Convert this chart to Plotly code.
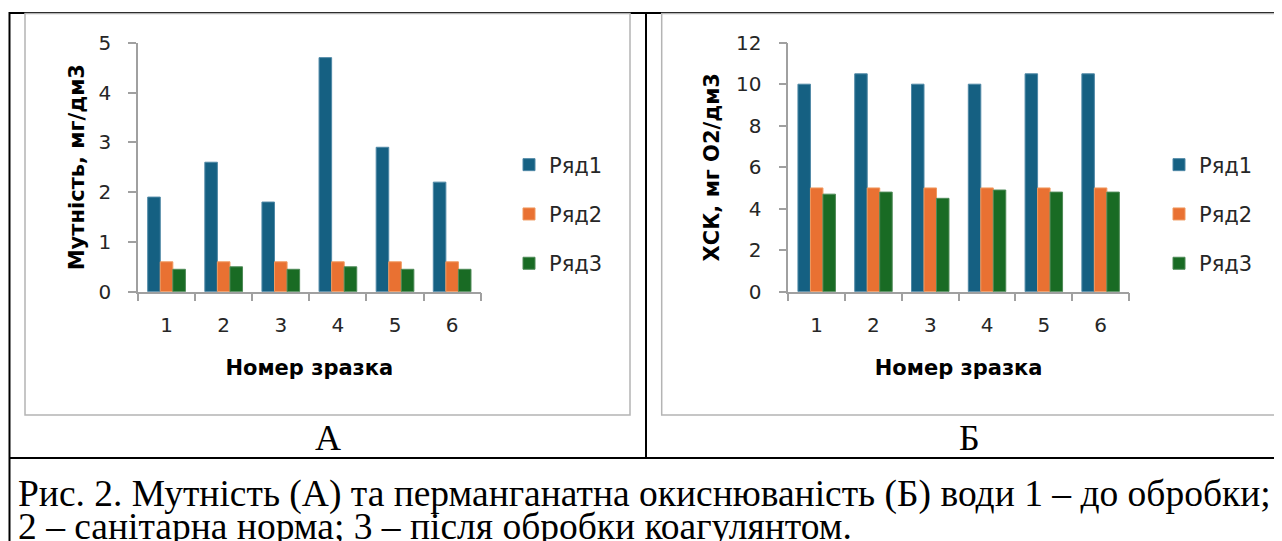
import plotly.graph_objects as go

# ---------------- data ----------------
categories = ["1", "2", "3", "4", "5", "6"]
series_names = ["Ряд1", "Ряд2", "Ряд3"]

turbidity_r1 = [1.9, 2.6, 1.8, 4.7, 2.9, 2.2]
turbidity_r2 = [0.6, 0.6, 0.6, 0.6, 0.6, 0.6]
turbidity_r3 = [0.45, 0.5, 0.45, 0.5, 0.45, 0.45]

cod_r1 = [10, 10.5, 10, 10, 10.5, 10.5]
cod_r2 = [5, 5, 5, 5, 5, 5]
cod_r3 = [4.7, 4.8, 4.5, 4.9, 4.8, 4.8]

y_title_a = "Мутність, мг/дм3"
y_title_b = "ХСК, мг О2/дм3"
x_title = "Номер зразка"
panel_a = "А"
panel_b = "Б"
caption_1 = "Рис. 2. Мутність (А) та перманганатна окиснюваність (Б) води 1 – до обробки;"
caption_2 = "2 – санітарна норма; 3 – після обробки коагулянтом."

colors = ["#156082", "#E97132", "#196B24"]
edge = ["#4f88a6", "#f0995f", "#4e8a57"]

# page body has an 8 px margin; the figure is sized so that it ends at the window edge
OFF = 8
W, H = 1282 - OFF, 541 - OFF


def px(x):
    return (x - OFF) / W


def py(y):
    return 1 - (y - OFF) / H


fig = go.Figure()

for i, (name, vals) in enumerate(zip(series_names, [turbidity_r1, turbidity_r2, turbidity_r3])):
    fig.add_trace(go.Bar(x=categories, y=vals, name=name, xaxis="x", yaxis="y",
                         marker=dict(color=colors[i], line=dict(color=edge[i], width=1)),
                         legend="legend", legendgroup="a" + str(i)))
for i, (name, vals) in enumerate(zip(series_names, [cod_r1, cod_r2, cod_r3])):
    fig.add_trace(go.Bar(x=categories, y=vals, name=name, xaxis="x2", yaxis="y2",
                         marker=dict(color=colors[i], line=dict(color=edge[i], width=1)),
                         legend="legend2", legendgroup="b" + str(i)))

tick_font = dict(family="DejaVu Sans", size=20, color="#262626")
title_font = dict(family="DejaVu Sans", size=21, color="#000000", weight="bold")
axis_line = "#a0a0a0"

common_x = dict(type="category", showline=True, linecolor=axis_line, linewidth=1.5,
                ticks="outside", ticklen=8, tickcolor=axis_line, tickwidth=1.5,
                tickson="boundaries", showgrid=False, zeroline=False, automargin=False,
                tickfont=tick_font, ticklabelstandoff=15,
                title=dict(text=x_title, font=title_font, standoff=24),
                fixedrange=True)
common_y = dict(showline=True, linecolor=axis_line, linewidth=1.5,
                ticks="outside", ticklen=8, tickcolor=axis_line, tickwidth=1.5,
                showgrid=False, zeroline=False, tickfont=tick_font, automargin=False,
                ticklabelstandoff=13, fixedrange=True)

y_top, y_bot = 42.7, 291.7

fig.update_layout(
    width=W, height=H,
    margin=dict(l=0, r=0, t=0, b=0, pad=0, autoexpand=False),
    paper_bgcolor="white", plot_bgcolor="white",
    barmode="group", bargap=0.34, bargroupgap=0,
    xaxis=dict(common_x, domain=[px(138), px(480.7)], anchor="y"),
    yaxis=dict(common_y, domain=[py(y_bot), py(y_top)], anchor="x", range=[0, 5], dtick=1,
               title=dict(text=y_title_a, font=title_font, standoff=8)),
    xaxis2=dict(common_x, domain=[px(788.3), px(1129)], anchor="y2"),
    yaxis2=dict(common_y, domain=[py(y_bot), py(y_top)], anchor="x2", range=[0, 12], dtick=2,
                title=dict(text=y_title_b, font=title_font, standoff=11)),
    legend=dict(x=px(509), xanchor="left", y=py(144.5), yanchor="top",
                font=dict(family="DejaVu Sans", size=21, color="#262626"),
                traceorder="grouped", tracegroupgap=19, bgcolor="rgba(0,0,0,0)"),
    legend2=dict(x=px(1159), xanchor="left", y=py(144.5), yanchor="top",
                 font=dict(family="DejaVu Sans", size=21, color="#262626"),
                 traceorder="grouped", tracegroupgap=19, bgcolor="rgba(0,0,0,0)"),
    font=dict(family="DejaVu Sans"),
)

# table frame and chart-area borders
shapes = []
black = dict(color="black", width=2)
gray = dict(color="#b4b4b4", width=1.5)
shapes.append(dict(type="line", xref="paper", yref="paper", x0=px(9), x1=px(1282), y0=py(13), y1=py(13), line=black))
shapes.append(dict(type="line", xref="paper", yref="paper", x0=px(9.5), x1=px(9.5), y0=py(12), y1=py(541), line=black))
shapes.append(dict(type="line", xref="paper", yref="paper", x0=px(646), x1=px(646), y0=py(12), y1=py(458), line=black))
shapes.append(dict(type="line", xref="paper", yref="paper", x0=px(9), x1=px(1282), y0=py(458), y1=py(458), line=black))
shapes.append(dict(type="rect", xref="paper", yref="paper", x0=px(25), x1=px(630), y0=py(415), y1=py(13.5), line=gray))
shapes.append(dict(type="rect", xref="paper", yref="paper", x0=px(661.7), x1=px(1277.7), y0=py(415), y1=py(13.5), line=gray))
fig.update_layout(shapes=shapes)

serif = dict(family="Liberation Serif", size=36, color="black")
cap_font = dict(family="Liberation Serif", size=37.5, color="black")
annotations = [
    dict(text=panel_a, x=px(327.5), y=py(438), xref="paper", yref="paper", showarrow=False,
         font=serif, xanchor="center", yanchor="middle"),
    dict(text=panel_b, x=px(970), y=py(438), xref="paper", yref="paper", showarrow=False,
         font=serif, xanchor="center", yanchor="middle"),
    dict(text=caption_1, x=px(16), y=py(494), xref="paper", yref="paper", showarrow=False,
         font=cap_font, xanchor="left", yanchor="middle"),
    dict(text=caption_2, x=px(16), y=py(526), xref="paper", yref="paper", showarrow=False,
         font=cap_font, xanchor="left", yanchor="middle"),
]
fig.update_layout(annotations=annotations)

fig.write_html("out.html")
